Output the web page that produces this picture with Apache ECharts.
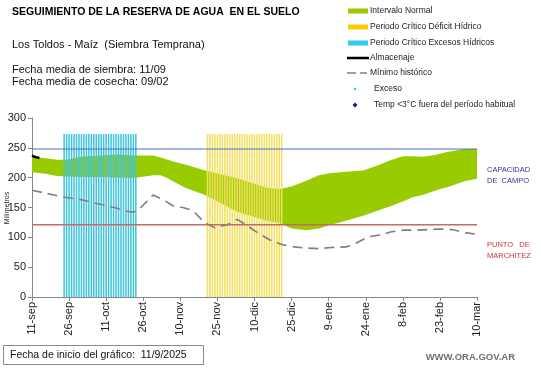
<!DOCTYPE html>
<html><head><meta charset="utf-8">
<script src="https://cdn.jsdelivr.net/npm/echarts@6/dist/echarts.min.js"></script>
<style>html,body{margin:0;padding:0;background:#fff}#c{width:541px;height:368px}</style>
</head><body><div id="c"></div><script>
// x axis: days since 11-sep (0..180), ticks every 15 days
const tickLabels = ["11-sep","26-sep","11-oct","26-oct","10-nov","25-nov","10-dic","25-dic","9-ene","24-ene","8-feb","23-feb","10-mar"];
const yTicks = [0, 50, 100, 150, 200, 250, 300];

// Intervalo normal (band)
const bandDays  = [0,5,10,14,20,28,35,42,49,52,55,57,62,70,76,83,90,95,100,105,111,116,121,127,134,140,145,150,154,158,163,165,168,172,175,176,180];
const bandUpper = [235,233,230,230,235,237,239,237,237,234,230,227,222,212,206,199,190,183,181,185,195,204,208,210,212,221,229,236,236,235,238,240,243,246,248,248,248];
const bandLower = [209,207,203,202,201,201,200,200,204,204,199,194,183,171,158,143,134,128,124,115,112,115,121,128,136,145,152,160,167,171,178,181,184,190,194,195,198];

// Mínimo histórico
const minDays   = [0,12,20,27,34,38,41,44,49,53,57,61,65,70,74,79,83,87,90,96,101,106,111,116,121,127,131,136,141,145,150,156,165,170,175,180];
const minValues = [179,168,163,156,149,144,142,150,171,163,153,150,145,124,116,121,130,120,111,96,88,84,82,81,83,84,90,101,104,109,112,112,114,113,108,105];

// Almacenaje
const almDays   = [0,1,2,3];
const almValues = [237,235,234,233];

// Periodos críticos (one mark per day)
const excesoDays  = [13,14,15,16,17,18,19,20,21,22,23,24,25,26,27,28,29,30,31,32,33,34,35,36,37,38,39,40,41,42];
const deficitDays = [71,72,73,74,75,76,77,78,79,80,81,82,83,84,85,86,87,88,89,90,91,92,93,94,95,96,97,98,99,100,101];
const periodTop = 273;

const capacidadCampo = 248;
const puntoMarchitez = 121;

const FONT = '"Liberation Sans", Arial, sans-serif';
const chart = echarts.init(document.getElementById('c'), null, {renderer:'canvas'});

const pair = (xs, ys) => xs.map((x, i) => [x, ys[i]]);
const periodData = [
  ...excesoDays.map(d => ({value:[d, periodTop], itemStyle:{color:'#3fc3db'}})),
  ...deficitDays.map(d => ({value:[d, periodTop], itemStyle:{color:'#f3df5e'}}))
];

function txt(x, y, text, font, fill, align) {
  return {type:'text', x:x, y:y, silent:true,
    style:{text:text, font:font, fill:fill, textAlign:align||'left', textVerticalAlign:'middle'}};
}
const legX = 348, legTX = 370;
const legRows = [11, 27, 43, 58, 73, 89, 105];
const legFont = '8.5px ' + FONT;

chart.setOption({
  animation:false,
  grid:{left:32, right:64, top:118, bottom:71},
  xAxis:{type:'value', min:0, max:180, interval:15,
    axisLine:{lineStyle:{color:'#868686'}},
    axisTick:{show:true, length:4, lineStyle:{color:'#868686'}},
    splitLine:{show:false},
    axisLabel:{rotate:90, fontSize:11, fontFamily:FONT, color:'#222', margin:5,
      formatter:v => tickLabels[Math.round(v/15)]}},
  yAxis:{type:'value', min:0, max:300, interval:50,
    axisLine:{show:true, lineStyle:{color:'#868686'}},
    axisTick:{show:true, length:4, lineStyle:{color:'#868686'}},
    splitLine:{show:false},
    axisLabel:{fontSize:11, fontFamily:FONT, color:'#222', margin:6,
      formatter:v => yTicks.includes(v) ? String(v) : ''}},
  series:[
    {type:'custom', silent:true, z:1, data:[0],
     renderItem:(params, api) => {
       const pts = [];
       for (let i = 0; i < bandDays.length; i++) pts.push(api.coord([bandDays[i], bandUpper[i]]));
       for (let i = bandDays.length - 1; i >= 0; i--) pts.push(api.coord([bandDays[i], bandLower[i]]));
       return {type:'polygon', shape:{points:pts}, style:{fill:'#99cc00'}};
     }},
    {type:'bar', barWidth:1.5, silent:true, z:2, data:periodData},
    {type:'line', symbol:'none', silent:true, z:3, data:[[0,capacidadCampo],[180,capacidadCampo]],
     lineStyle:{color:'#4a70c8', width:1}},
    {type:'line', symbol:'none', silent:true, z:3, data:[[0,puntoMarchitez],[180,puntoMarchitez]],
     lineStyle:{color:'#c56a6a', width:1.5}},
    {type:'line', symbol:'none', silent:true, z:4, data:pair(minDays, minValues),
     lineStyle:{color:'#7f7f7f', width:1.6, type:[10,6]}},
    {type:'line', symbol:'none', silent:true, z:5, data:pair(almDays, almValues),
     lineStyle:{color:'#000', width:2.5}}
  ],
  graphic:[
    txt(12, 12, 'SEGUIMIENTO DE LA RESERVA DE AGUA  EN EL SUELO', 'bold 10.5px ' + FONT, '#000'),
    txt(12, 45, 'Los Toldos - Maíz  (Siembra Temprana)', '11px ' + FONT, '#111'),
    txt(12, 70, 'Fecha media de siembra: 11/09', '11px ' + FONT, '#111'),
    txt(12, 82, 'Fecha media de cosecha: 09/02', '11px ' + FONT, '#111'),
    // legend
    {type:'rect', shape:{x:legX, y:legRows[0]-2.5, width:20, height:5}, style:{fill:'#99cc00'}, silent:true},
    txt(legTX, legRows[0], 'Intervalo Normal', legFont, '#222'),
    {type:'rect', shape:{x:legX, y:legRows[1]-2.5, width:20, height:5}, style:{fill:'#ffcc00'}, silent:true},
    txt(legTX, legRows[1], 'Periodo Crítico Déficit Hídrico', legFont, '#222'),
    {type:'rect', shape:{x:legX, y:legRows[2]-2.5, width:20, height:5}, style:{fill:'#33ccee'}, silent:true},
    txt(legTX, legRows[2], 'Periodo Crítico Excesos Hídricos', legFont, '#222'),
    {type:'line', shape:{x1:legX-1, y1:legRows[3], x2:legX+21, y2:legRows[3]}, style:{stroke:'#000', lineWidth:2.5}, silent:true},
    txt(legTX, legRows[3], 'Almacenaje', legFont, '#222'),
    {type:'line', shape:{x1:legX-1, y1:legRows[4], x2:legX+8, y2:legRows[4]}, style:{stroke:'#7f7f7f', lineWidth:1.5}, silent:true},
    {type:'line', shape:{x1:legX+12, y1:legRows[4], x2:legX+19, y2:legRows[4]}, style:{stroke:'#7f7f7f', lineWidth:1.5}, silent:true},
    txt(legTX, legRows[4], 'Mínimo histórico', legFont, '#222'),
    {type:'circle', shape:{cx:legX+7, cy:legRows[5], r:1.3}, style:{fill:'#33ccee'}, silent:true},
    txt(legTX+4, legRows[5], 'Exceso', legFont, '#222'),
    {type:'polygon', shape:{points:[[legX+7,legRows[6]-2.5],[legX+9.5,legRows[6]],[legX+7,legRows[6]+2.5],[legX+4.5,legRows[6]]]}, style:{fill:'#1a1a9a'}, silent:true},
    txt(legTX+4, legRows[6], 'Temp <3°C fuera del período habitual', legFont, '#222'),
    // right annotations
    txt(487, 170, 'CAPACIDAD', '7.5px ' + FONT, '#333399'),
    txt(487, 181, 'DE  CAMPO', '7.5px ' + FONT, '#333399'),
    txt(487, 245, 'PUNTO   DE', '7.5px ' + FONT, '#cc3333'),
    txt(487, 256, 'MARCHITEZ', '7.5px ' + FONT, '#cc3333'),
    // y-axis title
    {type:'text', x:7, y:208, rotation:Math.PI/2, silent:true,
     style:{text:'Milímetros', font:'7px ' + FONT, fill:'#222', textAlign:'center', textVerticalAlign:'middle'}},
    // bottom
    {type:'rect', shape:{x:3.5, y:345.5, width:200, height:19}, style:{fill:'#fff', stroke:'#8a8a8a', lineWidth:1}, silent:true},
    txt(10, 355, 'Fecha de inicio del gráfico:  11/9/2025', '10.5px ' + FONT, '#111'),
    txt(515, 357, 'WWW.ORA.GOV.AR', 'bold 9.5px ' + FONT, '#707070', 'right')
  ]
});
</script></body></html>
